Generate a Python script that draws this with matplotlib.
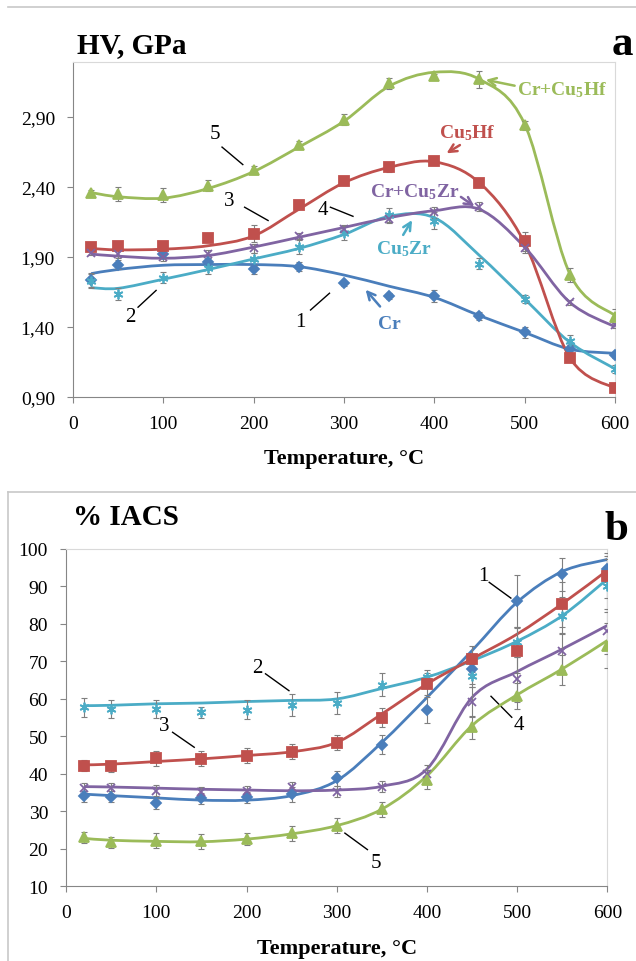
import numpy as np
import matplotlib
matplotlib.use('Agg')
import matplotlib.pyplot as plt
from matplotlib.path import Path
from matplotlib.patches import PathPatch
from matplotlib.ticker import FuncFormatter, MultipleLocator

plt.rcParams['font.family'] = ['Liberation Serif', 'DejaVu Serif']
plt.rcParams['mathtext.fontset'] = 'custom'
plt.rcParams['mathtext.rm'] = 'Liberation Serif'
plt.rcParams['mathtext.bf'] = 'Liberation Serif:bold'
plt.rcParams['mathtext.default'] = 'regular'

temps = [20, 50, 100, 150, 200, 250, 300, 350, 400, 450, 500, 550, 600]

# ---- (a) hardness, GPa: measured points, errors, smoothed curve
hv_cr = [1.735, 1.845, 1.92, 1.86, 1.81, 1.83, 1.71, 1.62, 1.62, 1.475, 1.36, 1.24, 1.20]
hv_cr_err = [0.05, 0.03, 0.03, 0.03, 0.03, 0.03, 0.02, 0.02, 0.04, 0.03, 0.04, 0.03, 0.02]
hv_cr_fit = [1.78, 1.81, 1.84, 1.845, 1.845, 1.83, 1.77, 1.69, 1.61, 1.48, 1.36, 1.24, 1.21]

hv_zr = [1.73, 1.635, 1.75, 1.82, 1.885, 1.97, 2.07, 2.20, 2.16, 1.85, 1.60, 1.30, 1.10]
hv_zr_err = [0.05, 0.04, 0.04, 0.04, 0.04, 0.05, 0.05, 0.05, 0.06, 0.04, 0.03, 0.04, 0.03]
hv_zr_fit = [1.68, 1.675, 1.74, 1.81, 1.885, 1.96, 2.06, 2.19, 2.18, 1.91, 1.60, 1.29, 1.10]

hv_hf = [1.97, 1.98, 1.975, 2.035, 2.065, 2.27, 2.44, 2.54, 2.585, 2.43, 2.01, 1.175, 0.96]
hv_hf_err = [0.03, 0.02, 0.02, 0.03, 0.06, 0.02, 0.02, 0.03, 0.03, 0.02, 0.07, 0.02, 0.02]
hv_hf_fit = [1.96, 1.95, 1.955, 1.98, 2.05, 2.24, 2.43, 2.54, 2.58, 2.43, 2.00, 1.18, 0.96]

hv_crzr = [1.93, 1.92, 1.90, 1.92, 1.96, 2.05, 2.10, 2.17, 2.22, 2.26, 1.96, 1.575, 1.41]
hv_crzr_err = [0.02, 0.03, 0.03, 0.03, 0.03, 0.02, 0.03, 0.03, 0.04, 0.03, 0.03, 0.02, 0.02]
hv_crzr_fit = [1.92, 1.905, 1.89, 1.91, 1.97, 2.04, 2.11, 2.18, 2.23, 2.24, 1.97, 1.575, 1.40]

hv_crhf = [2.36, 2.35, 2.34, 2.41, 2.52, 2.70, 2.88, 3.14, 3.19, 3.17, 2.84, 1.77, 1.47]
hv_crhf_err = [0.02, 0.05, 0.05, 0.04, 0.03, 0.03, 0.04, 0.04, 0.02, 0.06, 0.03, 0.05, 0.06]
hv_crhf_fit = [2.36, 2.33, 2.32, 2.39, 2.51, 2.685, 2.87, 3.12, 3.22, 3.17, 2.85, 1.78, 1.48]

# ---- (b) conductivity, % IACS
ic_cr = [34.0, 33.9, 32.2, 33.5, 33.75, 34.6, 38.8, 47.8, 57.0, 68.0, 86.1, 93.2, 94.7]
ic_cr_err = [1.5, 1.5, 1.5, 1.5, 1.5, 2, 2, 2.5, 3.5, 4, 7, 4.5, 3.5]
ic_cr_fit = [34.6, 34.2, 33.6, 33.0, 33.0, 34.2, 38.2, 48.4, 60.4, 72.9, 85.8, 94.0, 97.2]

ic_zr = [57.8, 57.3, 57.3, 56.4, 57.1, 58.4, 58.9, 63.8, 65.8, 66.2, 75.1, 82.2, 90.2]
ic_zr_err = [2.5, 2.5, 2.5, 1.5, 2.5, 3, 3, 3, 2, 3, 4, 5, 7]
ic_zr_fit = [58.2, 58.3, 58.7, 58.9, 59.3, 59.6, 60.0, 62.8, 65.8, 70.2, 75.4, 82.2, 92.0]

ic_hf = [42.2, 42.0, 44.2, 44.0, 44.9, 45.9, 48.3, 55.0, 64.0, 70.7, 72.9, 85.3, 92.9]
ic_hf_err = [1.5, 1.5, 2, 2, 2, 2, 2, 2.5, 3, 3.5, 6, 6, 6]
ic_hf_fit = [42.4, 42.6, 43.3, 44.0, 44.9, 45.9, 48.4, 56.0, 64.0, 70.7, 77.3, 85.4, 94.3]

ic_crzr = [36.2, 36.2, 35.5, 35.1, 35.4, 36.4, 35.3, 36.6, 40.0, 59.3, 65.3, 72.7, 78.1]
ic_crzr_err = [1.5, 1.5, 1.5, 1.5, 1.5, 1.5, 1.5, 1.5, 2.5, 4, 6, 5, 6]
ic_crzr_fit = [36.6, 36.5, 36.2, 35.9, 35.7, 35.5, 35.7, 36.7, 41.3, 60.4, 67.3, 73.3, 79.6]

ic_crhf = [23.1, 21.7, 22.2, 22.0, 22.6, 24.1, 26.2, 30.6, 38.5, 52.4, 60.7, 67.6, 74.2]
ic_crhf_err = [1.5, 1.5, 2, 2, 1.5, 2, 2, 2, 2.5, 3, 3.5, 4, 6]
ic_crhf_fit = [22.8, 22.3, 22.0, 21.9, 22.6, 24.0, 26.2, 30.6, 39.5, 52.9, 61.1, 68.0, 75.6]

blue, cyan, red, purple, green = '#4a7ebb', '#4bacc6', '#c0504d', '#8064a2', '#9bbb59'
star = (6, 2, 0)
markers = ['D', star, 's', 'x', '^']
colors = [blue, cyan, red, purple, green]
msizes = [5, 7, 7, 6, 7]


def smooth_path(x, y, t=1/6):
    # excel-like smoothed line (catmull-rom -> bezier)
    pts = np.column_stack([x, y]).astype(float)
    verts = [pts[0]]
    codes = [Path.MOVETO]
    n = len(pts)
    for i in range(n - 1):
        p0 = pts[max(i - 1, 0)]
        p1 = pts[i]
        p2 = pts[i + 1]
        p3 = pts[min(i + 2, n - 1)]
        verts += [p1 + (p2 - p0) * t, p2 - (p3 - p1) * t, p2]
        codes += [Path.CURVE4] * 3
    return Path(verts, codes)


def draw_panel(ax, data, fits, errs):
    for k in range(5):
        ax.add_patch(PathPatch(smooth_path(temps, fits[k]), fill=False,
                               edgecolor=colors[k], lw=2, zorder=3))
    for k in range(5):
        ax.errorbar(temps, data[k], yerr=errs[k], fmt='none', ecolor='#7f7f7f',
                    elinewidth=0.8, capsize=2.5, capthick=0.8, zorder=4)
        ax.plot(temps, data[k], ls='none', marker=markers[k], ms=msizes[k],
                color=colors[k], mec=colors[k], mew=1.3, zorder=5)
    ax.set_xlim(0, 600)
    ax.xaxis.set_major_locator(MultipleLocator(100))
    for s in ['top', 'right']:
        ax.spines[s].set_color('#d9d9d9')
    for s in ['left', 'bottom']:
        ax.spines[s].set_color('#868686')
    ax.tick_params(direction='out', length=4, color='#868686', labelsize=14, pad=9)
    ax.set_xlabel('Temperature, °C', fontsize=16, fontweight='bold', labelpad=12)


fig = plt.figure(figsize=(6.36, 9.62), dpi=100)

# panel a
ax1 = fig.add_axes([0.1148, 0.5866, 0.852, 0.3474])
draw_panel(ax1,
           [hv_cr, hv_zr, hv_hf, hv_crzr, hv_crhf],
           [hv_cr_fit, hv_zr_fit, hv_hf_fit, hv_crzr_fit, hv_crhf_fit],
           [hv_cr_err, hv_zr_err, hv_hf_err, hv_crzr_err, hv_crhf_err])
ax1.set_ylim(0.9, 3.29)
ax1.set_yticks([0.9, 1.4, 1.9, 2.4, 2.9])
ax1.yaxis.set_major_formatter(FuncFormatter(lambda v, p: f'{v:.2f}'.replace('.', ',')))

for txt, xy, seg in [('5', (157, 2.78), ((165, 2.685), (188, 2.56))),
                     ('3', (173, 2.30), ((190, 2.255), (216, 2.16))),
                     ('4', (277, 2.24), ((285, 2.255), (310, 2.19))),
                     ('2', (64, 1.47), ((72, 1.54), (92, 1.66))),
                     ('1', (252, 1.44), ((263, 1.52), (284, 1.64)))]:
    ax1.text(xy[0], xy[1], txt, fontsize=15, ha='center', va='center')
    ax1.plot([seg[0][0], seg[1][0]], [seg[0][1], seg[1][1]], color='black', lw=1)

for txt, xy, tail, head, c in [('Cr', (350, 1.42), (342, 1.53), (322, 1.68), blue),
                               (r'Cu$_5$Zr', (366, 1.96), (364, 2.04), (377, 2.18), cyan),
                               (r'Cr+Cu$_5$Zr', (378, 2.37), (427, 2.34), (447, 2.25), purple),
                               (r'Cu$_5$Hf', (436, 2.79), (431, 2.71), (411, 2.63), red),
                               (r'Cr+Cu$_5$Hf', (541, 3.10), (492, 3.12), (454, 3.17), green)]:
    ax1.text(xy[0], xy[1], txt, fontsize=14, fontweight='bold', color=c,
             ha='center', va='center', clip_on=False)
    ax1.annotate('', xy=head, xytext=tail,
                 arrowprops=dict(arrowstyle='->', color=c, lw=1.8,
                                 mutation_scale=14))

fig.text(0.121, 0.953, 'HV, GPa', fontsize=21, fontweight='bold', va='center')
fig.text(0.978, 0.953, 'a', fontsize=31, fontweight='bold', va='center', ha='center')

# panel b
ax2 = fig.add_axes([0.104, 0.0776, 0.851, 0.3507])
draw_panel(ax2,
           [ic_cr, ic_zr, ic_hf, ic_crzr, ic_crhf],
           [ic_cr_fit, ic_zr_fit, ic_hf_fit, ic_crzr_fit, ic_crhf_fit],
           [ic_cr_err, ic_zr_err, ic_hf_err, ic_crzr_err, ic_crhf_err])
ax2.set_ylim(10, 100)
ax2.yaxis.set_major_locator(MultipleLocator(10))

for txt, xy, seg in [('2', (212, 68.5), ((221, 66.7), (247, 62.2))),
                     ('3', (109, 52.9), ((118, 51.1), (142, 47.1))),
                     ('1', (462, 92.9), ((469, 91.1), (493, 86.9))),
                     ('4', (502, 53.3), ((494, 55.1), (471, 60.7))),
                     ('5', (343, 16.4), ((334, 19.8), (309, 24.2)))]:
    ax2.text(xy[0], xy[1], txt, fontsize=15, ha='center', va='center')
    ax2.plot([seg[0][0], seg[1][0]], [seg[0][1], seg[1][1]], color='black', lw=1)

fig.text(0.115, 0.462, '% IACS', fontsize=21, fontweight='bold', va='center')
fig.text(0.970, 0.449, 'b', fontsize=31, fontweight='bold', va='center', ha='center')

# frame lines around the panels
fig.add_artist(plt.Line2D([0.013, 1.0], [0.9917, 0.9917], color='#c8c8c8', lw=1.2))
fig.add_artist(plt.Line2D([0.013, 1.0], [0.4875, 0.4875], color='#c8c8c8', lw=1.2))
fig.add_artist(plt.Line2D([0.013, 0.013], [0.0, 0.4875], color='#c8c8c8', lw=1.2))

fig.savefig('out.png', dpi=100)
